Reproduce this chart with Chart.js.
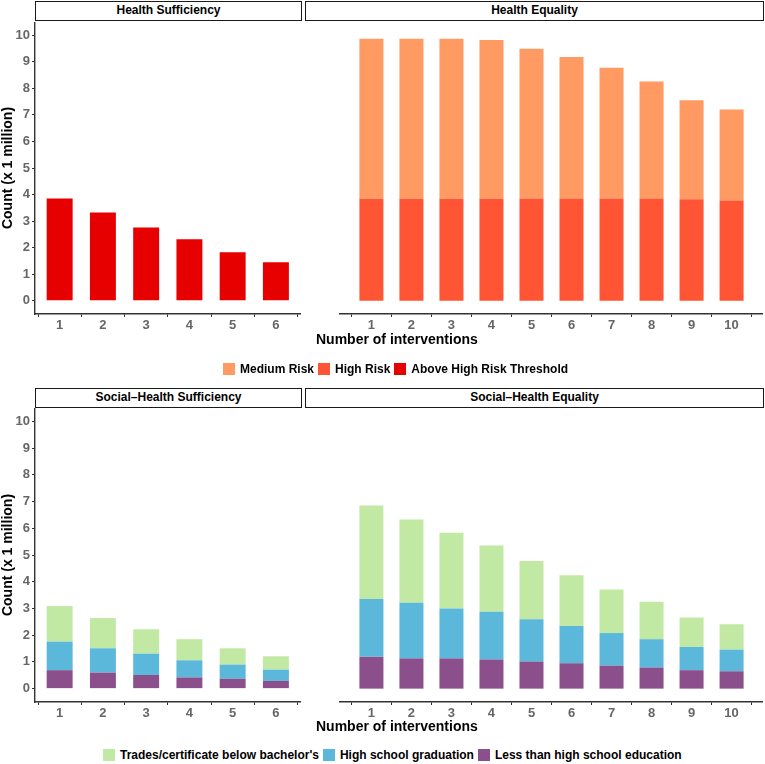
<!DOCTYPE html>
<html>
<head>
<meta charset="utf-8">
<script src="https://cdn.jsdelivr.net/npm/chart.js@4"></script>
<style>
  body { margin: 0; background: #fff; font-family: "Liberation Sans", Arial, sans-serif; }
  #page { position: relative; width: 765px; height: 764px; overflow: hidden; }
  canvas { position: absolute; }
  .strip { position: absolute; box-sizing: border-box; border: 1.4px solid #1a1a1a; background: #fff;
    font-weight: bold; font-size: 12px; color: #000; text-align: center; }
  .xtitle { position: absolute; font-weight: bold; font-size: 14px; line-height: 16px; color: #000; }
  .legend { position: absolute; display: flex; align-items: center; font-weight: bold; font-size: 12px; color: #000; white-space: nowrap; }
  .legend span.box { display: inline-block; width: 12px; height: 12px; margin-right: 5px; }
  .legend span.lab { margin-right: 4px; }
</style>
</head>
<body>
<div id="page">
  <div class="strip" style="left:35px;top:1px;width:267px;height:20px;line-height:17px;">Health Sufficiency</div>
  <div class="strip" style="left:305px;top:1px;width:459px;height:20px;line-height:17px;">Health Equality</div>
  <canvas id="tl" width="301" height="312" style="left:0;top:22px;"></canvas>
  <canvas id="tr" width="458" height="312" style="left:305px;top:22px;"></canvas>
  <div class="xtitle" style="left:316px;top:331px;">Number of interventions</div>
  <div class="legend" id="legTop" style="left:223px;top:362px;"></div>

  <div class="strip" style="left:35px;top:388px;width:267px;height:20px;line-height:17px;">Social–Health Sufficiency</div>
  <div class="strip" style="left:305px;top:388px;width:459px;height:20px;line-height:17px;">Social–Health Equality</div>
  <canvas id="bl" width="301" height="314" style="left:0;top:408px;"></canvas>
  <canvas id="br" width="458" height="314" style="left:305px;top:408px;"></canvas>
  <div class="xtitle" style="left:316px;top:718px;">Number of interventions</div>
  <div class="legend" id="legBottom" style="left:103px;top:748px;"></div>
</div>
<script>
'use strict';
// number of interventions
let sufficiencyInterventions=[1, 2, 3, 4, 5, 6];
let equalityInterventions=[1, 2, 3, 4, 5, 6, 7, 8, 9, 10];
let countTicks=[0, 1, 2, 3, 4, 5, 6, 7, 8, 9, 10];

// counts, x 1 million
let aboveThreshold=[3.85, 3.32, 2.76, 2.32, 1.83, 1.45];
let highRisk=[3.84, 3.84, 3.84, 3.84, 3.85, 3.85, 3.85, 3.85, 3.82, 3.78];
let mediumRisk=[6.03, 6.03, 6.03, 5.98, 5.64, 5.33, 4.93, 4.41, 3.73, 3.42];

let suffLessHighSchool=[0.69, 0.60, 0.51, 0.42, 0.37, 0.29];
let suffHighSchool=[1.07, 0.91, 0.80, 0.64, 0.53, 0.42];
let suffTrades=[1.33, 1.13, 0.91, 0.79, 0.61, 0.50];

let eqLessHighSchool=[1.19, 1.13, 1.13, 1.09, 1.01, 0.95, 0.86, 0.79, 0.69, 0.65];
let eqHighSchool=[2.16, 2.08, 1.87, 1.79, 1.59, 1.39, 1.22, 1.06, 0.87, 0.81];
let eqTrades=[3.50, 3.12, 2.83, 2.48, 2.18, 1.90, 1.63, 1.40, 1.10, 0.95];

let colors={
  medium: '#FF9A62',
  high: '#FF5535',
  above: '#E60000',
  trades: '#C2E9A4',
  highSchool: '#5BB8DA',
  less: '#8B4F8B'
};

let tickFont={family: 'Liberation Sans', size: 13, weight: 'bold'};

function points(xs, ys){
  let out=[];
  for(let i=0; i<xs.length; i++){
    out.push({x: xs[i], y: ys[i]});
  }
  return out;
}

function dataset(label, xs, ys, color){
  return {
    label: label,
    data: points(xs, ys),
    backgroundColor: color,
    borderWidth: 0,
    categoryPercentage: 1,
    barPercentage: 0.6
  };
}

function makeChart(id, datasets, xs, xMin, xMax, showY){
  let ctx=document.getElementById(id).getContext('2d');
  return new Chart(ctx, {
    type: 'bar',
    data: {datasets: datasets},
    options: {
      responsive: false,
      animation: false,
      layout: {padding: 0},
      plugins: {legend: {display: false}, tooltip: {enabled: false}},
      scales: {
        x: {
          type: 'linear',
          stacked: true,
          offset: false,
          min: xMin,
          max: xMax,
          afterBuildTicks: function(scale){
            scale.ticks=xs.map(function(v){ return {value: v}; });
          },
          afterFit: function(scale){
            scale.height=20;
            scale.paddingLeft=0;
            scale.paddingRight=0;
          },
          ticks: {font: tickFont, color: '#666', padding: 1, maxRotation: 0,
            callback: function(v){ return String(v); }},
          grid: {drawOnChartArea: false, drawTicks: true, tickLength: 3, color: '#333', lineWidth: 1},
          border: {display: true, color: '#333', width: 1.4}
        },
        y: {
          display: showY,
          stacked: true,
          min: -0.5,
          max: 10.5,
          afterBuildTicks: function(scale){
            scale.ticks=countTicks.map(function(v){ return {value: v}; });
          },
          afterFit: function(scale){
            scale.width=35;
            scale.paddingTop=0;
            scale.paddingBottom=0;
          },
          ticks: {font: tickFont, color: '#666', padding: 2},
          grid: {drawOnChartArea: false, drawTicks: true, tickLength: 3, color: '#333', lineWidth: 1},
          border: {display: true, color: '#333', width: 1.4},
          title: {
            display: true,
            text: 'Count (x 1 million)',
            color: '#000',
            font: {family: 'Liberation Sans', size: 14, weight: 'bold'},
            padding: {top: 0, bottom: 0}
          }
        }
      }
    }
  });
}

makeChart('tl', [
  dataset('Above High Risk Threshold', sufficiencyInterventions, aboveThreshold, colors.above)
], sufficiencyInterventions, 0.43, 6.58, true);

makeChart('tr', [
  dataset('High Risk', equalityInterventions, highRisk, colors.high),
  dataset('Medium Risk', equalityInterventions, mediumRisk, colors.medium)
], equalityInterventions, 0.215, 10.785, false);

makeChart('bl', [
  dataset('Less than high school education', sufficiencyInterventions, suffLessHighSchool, colors.less),
  dataset('High school graduation', sufficiencyInterventions, suffHighSchool, colors.highSchool),
  dataset('Trades/certificate below bachelor\'s', sufficiencyInterventions, suffTrades, colors.trades)
], sufficiencyInterventions, 0.43, 6.58, true);

makeChart('br', [
  dataset('Less than high school education', equalityInterventions, eqLessHighSchool, colors.less),
  dataset('High school graduation', equalityInterventions, eqHighSchool, colors.highSchool),
  dataset('Trades/certificate below bachelor\'s', equalityInterventions, eqTrades, colors.trades)
], equalityInterventions, 0.215, 10.785, false);

function legend(id, items){
  let box=document.getElementById(id);
  for(let i=0; i<items.length; i++){
    let sw=document.createElement('span');
    sw.className='box';
    sw.style.background=items[i][1];
    let lab=document.createElement('span');
    lab.className='lab';
    lab.textContent=items[i][0];
    box.appendChild(sw);
    box.appendChild(lab);
  }
}
legend('legTop', [
  ['Medium Risk', colors.medium],
  ['High Risk', colors.high],
  ['Above High Risk Threshold', colors.above]
]);
legend('legBottom', [
  ['Trades/certificate below bachelor\'s', colors.trades],
  ['High school graduation', colors.highSchool],
  ['Less than high school education', colors.less]
]);
</script>
</body>
</html>
